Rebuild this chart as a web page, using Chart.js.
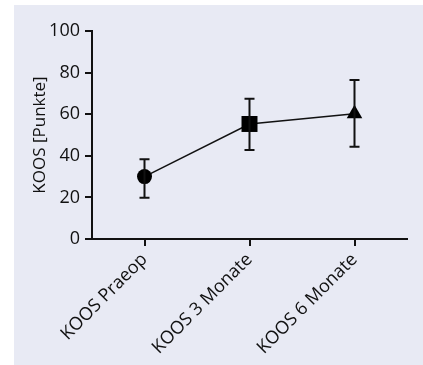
<!DOCTYPE html>
<html>
<head>
<meta charset="utf-8">
<script src="https://cdn.jsdelivr.net/npm/chart.js@4"></script>
<style>
  html, body { margin: 0; padding: 0; background: #ffffff; }
  #wrap { position: relative; width: 423px; height: 365px; }
</style>
</head>
<body>
<div id="wrap"><canvas id="c" width="423" height="365"></canvas></div>
<script>
const categories = ['KOOS Praeop', 'KOOS 3 Monate', 'KOOS 6 Monate'];
const means = [30, 55.3, 60.2];
const errLow = [19.8, 42.8, 44.4];
const errHigh = [38.4, 67.4, 76.4];
const yTicks = [0, 20, 40, 60, 80, 100];
const pointStyles = ['circle', 'rect', 'triangle'];
const pointSizes = [7.5, 11.3, 9];

const FONT = '"Open Sans", "DejaVu Sans", sans-serif';

const bgPlugin = {
  id: 'bg',
  beforeDraw(chart) {
    const ctx = chart.ctx;
    ctx.save();
    ctx.fillStyle = '#ffffff';
    ctx.fillRect(0, 0, chart.width, chart.height);
    ctx.fillStyle = '#e8eaf4';
    ctx.fillRect(14, 5, chart.width - 14, chart.height - 5);
    ctx.restore();
  }
};

const errorBarPlugin = {
  id: 'errbars',
  afterDatasetsDraw(chart) {
    const ctx = chart.ctx;
    const xs = chart.scales.x, ys = chart.scales.y;
    ctx.save();
    ctx.strokeStyle = '#111';
    ctx.lineWidth = 2;
    categories.forEach((c, i) => {
      const x = xs.getPixelForValue(i);
      const yl = ys.getPixelForValue(errLow[i]);
      const yh = ys.getPixelForValue(errHigh[i]);
      ctx.beginPath();
      ctx.moveTo(x, yl); ctx.lineTo(x, yh);
      ctx.moveTo(x - 5, yl); ctx.lineTo(x + 5, yl);
      ctx.moveTo(x - 5, yh); ctx.lineTo(x + 5, yh);
      ctx.stroke();
    });
    ctx.restore();
  }
};

new Chart(document.getElementById('c'), {
  type: 'line',
  data: {
    labels: categories,
    datasets: [{
      data: means,
      borderColor: '#111',
      borderWidth: 1.5,
      backgroundColor: '#000',
      pointBackgroundColor: '#000',
      pointBorderColor: '#000',
      pointBorderWidth: 0,
      pointStyle: pointStyles,
      pointRadius: pointSizes,
      tension: 0
    }]
  },
  options: {
    responsive: false,
    animation: false,
    devicePixelRatio: 1,
    layout: { padding: { left: 26, right: 16, top: 31, bottom: 0 } },
    plugins: { legend: { display: false }, tooltip: { enabled: false } },
    scales: {
      x: {
        type: 'category',
        offset: true,
        grid: { offset: false, drawOnChartArea: false, drawTicks: true, tickLength: 7, color: '#111', lineWidth: 2 },
        border: { display: true, color: '#111', width: 2 },
        ticks: { color: '#111', font: { family: FONT, size: 18 }, minRotation: 45, maxRotation: 45, padding: 3 },
        afterFit(s) { s.height = 126; }
      },
      y: {
        min: 0, max: 100,
        afterBuildTicks(s) { s.ticks = yTicks.map(v => ({ value: v })); },
        grid: { drawOnChartArea: false, drawTicks: true, tickLength: 7, color: '#111', lineWidth: 2 },
        border: { display: true, color: '#111', width: 2 },
        ticks: { color: '#111', font: { family: FONT, size: 18 }, padding: 5 },
        title: { display: true, text: 'KOOS [Punkte]', color: '#111', font: { family: FONT, size: 17 }, padding: { top: 4, bottom: 4 } },
        afterFit(s) { s.width = 66; }
      }
    }
  },
  plugins: [bgPlugin, errorBarPlugin]
});
</script>
</body>
</html>
